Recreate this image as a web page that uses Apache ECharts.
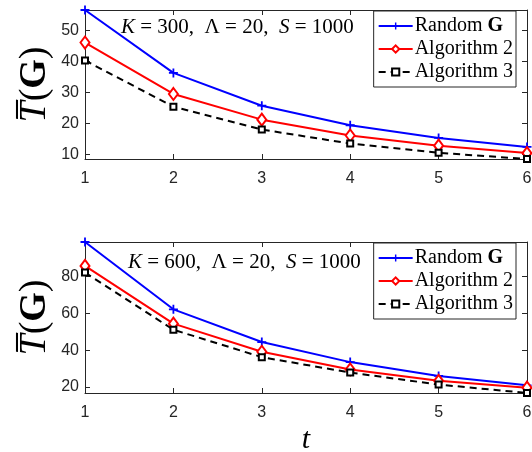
<!DOCTYPE html>
<html><head><meta charset="utf-8">
<script src="https://cdn.jsdelivr.net/npm/echarts@6/dist/echarts.min.js"></script>
<style>html,body{margin:0;padding:0;background:#fff}#c{width:532px;height:452px}</style>
</head><body><div id="c"></div>
<script>
// ---- data ----
const tValues = [1, 2, 3, 4, 5, 6];
const seriesNames = ['Random G', 'Algorithm 2', 'Algorithm 3'];
// top panel: K = 300
const topRandom = [56.6, 36.3, 25.7, 19.4, 15.3, 12.4];
const topAlg2   = [46.1, 29.5, 21.2, 16.1, 12.8, 10.4];
const topAlg3   = [40.3, 25.4, 18.0, 13.5, 10.5, 8.5];
// bottom panel: K = 600
const botRandom = [98.8, 62.2, 44.4, 33.5, 26.0, 20.9];
const botAlg2   = [85.8, 54.4, 39.1, 29.5, 23.3, 19.6];
const botAlg3   = [82.2, 51.1, 36.2, 27.8, 21.3, 16.7];
const topTickStep = 10;
const botTickStep = 20;

const pairs = arr => tValues.map((t, i) => [t, arr[i]]);
const topAll = topRandom.concat(topAlg2, topAlg3);
const botAll = botRandom.concat(botAlg2, botAlg3);
const topMin = Math.min(...topAll), topMax = Math.max(...topAll);
const botMin = Math.min(...botAll), botMax = Math.max(...botAll);

const AX = '#262626';
const SANS = 'Liberation Sans, Arial, sans-serif';
const SERIF = 'Liberation Serif, Times New Roman, serif';
const plus = 'path://M4,0H6V4H10V6H6V10H4V6H0V4H4Z';

const grids = [
  {left: 85, right: 5, top: 10, height: 149},
  {left: 85, right: 5, top: 242, height: 151}
];
grids.forEach(g => { g.containLabel = false; g.outerBoundsMode = 'none'; });

function xAx(gi, pos, withLabel, name) {
  return {
    type: 'value', gridIndex: gi, position: pos, min: 1, max: 6, interval: 1,
    axisLine: {show: true, lineStyle: {color: AX, width: 1}},
    axisTick: {show: true, inside: true, length: 5, lineStyle: {color: AX}},
    axisLabel: {show: withLabel, color: AX, fontFamily: SANS, fontSize: 16, margin: 12},
    splitLine: {show: false},
    name: name || '', nameLocation: 'middle', nameGap: 32, nameMoveOverlap: false,
    nameTextStyle: {fontFamily: SERIF, fontSize: 30, fontStyle: 'italic', color: '#000'}
  };
}
function yAx(gi, pos, withLabel, mn, mx, step, split) {
  return {
    type: 'value', gridIndex: gi, position: pos, min: mn, max: mx, splitNumber: split,
    axisLine: {show: true, lineStyle: {color: AX, width: 1}},
    axisTick: {show: true, inside: true, length: 5, lineStyle: {color: AX}},
    axisLabel: {show: withLabel, color: AX, fontFamily: SANS, fontSize: 16, margin: 6,
      showMinLabel: false, showMaxLabel: false,
      formatter: v => (Math.abs(v / step - Math.round(v / step)) < 1e-6 ? String(Math.round(v)) : '')},
    splitLine: {show: false},
    name: withLabel ? '{t|T\u0305}({g|G})' : '', nameLocation: 'middle', nameGap: 31, nameMoveOverlap: false,
    nameTextStyle: {fontFamily: SERIF, fontSize: 38, color: '#000',
      rich: {t: {fontFamily: SERIF, fontSize: 38, fontStyle: 'italic', color: '#000'},
             g: {fontFamily: SERIF, fontSize: 38, fontWeight: 'bold', color: '#000'}}}
  };
}

const styles = [
  {color: '#0000ff', symbol: plus, symbolSize: 9, lineType: 'solid', bw: 0},
  {color: '#ff0000', symbol: 'emptyDiamond', symbolSize: [9, 12], lineType: 'solid', bw: 2},
  {color: '#000000', symbol: 'emptyRect', symbolSize: 6, lineType: [7, 5], bw: 2.5}
];
function mk(gi, idx, arr) {
  const s = styles[idx];
  return {
    type: 'line', name: seriesNames[idx], xAxisIndex: gi * 2, yAxisIndex: gi * 2,
    data: pairs(arr), symbol: s.symbol, symbolSize: s.symbolSize, showAllSymbol: true,
    lineStyle: {color: s.color, width: 2, type: s.lineType},
    itemStyle: {color: s.color, borderColor: s.color, borderWidth: s.bw},
    emphasis: {disabled: true}, clip: false
  };
}
const legendBase = {
  orient: 'vertical', right: 16, data: seriesNames,
  backgroundColor: '#fff', borderColor: AX, borderWidth: 1, borderRadius: 0,
  padding: [5, 3, 5, 4], itemGap: 3, itemWidth: 34, itemHeight: 9,
  selectedMode: false,
  formatter: n => n === 'Random G' ? 'Random {b|G}' : n,
  textStyle: {fontFamily: SERIF, fontSize: 20, color: '#000', lineHeight: 18, padding: [0, 0, 0, -3],
    rich: {b: {fontFamily: SERIF, fontSize: 20, fontWeight: 'bold', color: '#000', lineHeight: 18}}}
};
const annStyle = {fontFamily: SERIF, fontSize: 21, fontWeight: 'normal', color: '#000',
  rich: {i: {fontFamily: SERIF, fontSize: 21, fontStyle: 'italic', color: '#000'}}};

const option = {
  animation: false,
  backgroundColor: '#fff',
  grid: grids,
  title: [
    {left: 121, top: 17, padding: 0, text: '{i|K} = 300,  \u039B = 20,  {i|S} = 1000', textStyle: annStyle},
    {left: 128, top: 252, padding: 0, text: '{i|K} = 600,  \u039B = 20,  {i|S} = 1000', textStyle: annStyle}
  ],
  legend: [
    Object.assign({}, legendBase, {top: 11}),
    Object.assign({}, legendBase, {top: 243})
  ],
  xAxis: [
    xAx(0, 'bottom', true), xAx(0, 'top', false),
    xAx(1, 'bottom', true, 't'), xAx(1, 'top', false)
  ],
  yAxis: [
    yAx(0, 'left', true, topMin, topMax, topTickStep, 5), yAx(0, 'right', false, topMin, topMax, topTickStep, 5),
    yAx(1, 'left', true, botMin, botMax, botTickStep, 4), yAx(1, 'right', false, botMin, botMax, botTickStep, 4)
  ],
  series: [
    mk(0, 0, topRandom), mk(0, 1, topAlg2), mk(0, 2, topAlg3),
    mk(1, 0, botRandom), mk(1, 1, botAlg2), mk(1, 2, botAlg3)
  ]
};
const chart = echarts.init(document.getElementById('c'), null, {renderer: 'canvas'});
chart.setOption(option);
</script></body></html>
